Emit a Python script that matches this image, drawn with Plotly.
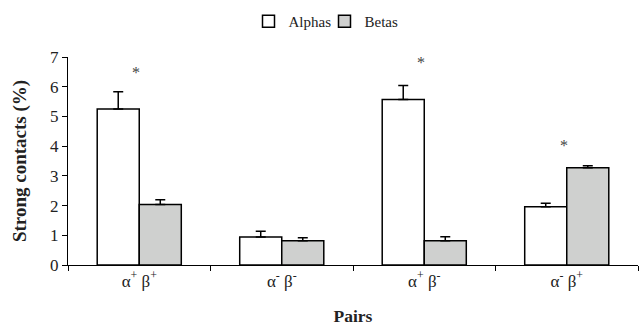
import plotly.graph_objects as go

categories = ["α<sup>+</sup> β<sup>+</sup>", "α<sup>-</sup> β<sup>-</sup>",
              "α<sup>+</sup> β<sup>-</sup>", "α<sup>-</sup> β<sup>+</sup>"]
alphas = [5.25, 0.94, 5.57, 1.96]
alphas_err = [0.58, 0.20, 0.47, 0.12]
betas = [2.04, 0.82, 0.82, 3.27]
betas_err = [0.16, 0.10, 0.13, 0.07]
star_cats = [categories[0], categories[2], categories[3]]
star_y = [6.47, 6.8, 4.02]

FONT = "Liberation Serif"
TXT = "#222222"

fig = go.Figure()
fig.add_trace(go.Bar(
    name="Alphas", x=categories, y=alphas,
    marker=dict(color="white", line=dict(color="black", width=1.5)),
    error_y=dict(type="data", symmetric=False, array=alphas_err,
                 arrayminus=[0] * len(alphas), color="black", thickness=1.5, width=5),
))
fig.add_trace(go.Bar(
    name="Betas", x=categories, y=betas,
    marker=dict(color="#cfd0cf", line=dict(color="black", width=1.5)),
    error_y=dict(type="data", symmetric=False, array=betas_err,
                 arrayminus=[0] * len(betas), color="black", thickness=1.5, width=5),
))
for c, yv in zip(star_cats, star_y):
    fig.add_annotation(x=c, y=yv, text="*", showarrow=False, xshift=-3,
                       font=dict(family=FONT, size=16, color="#444444"))

fig.update_layout(
    width=641, height=326, autosize=False,
    margin=dict(l=68, r=3, t=57, b=61, autoexpand=False),
    paper_bgcolor="white", plot_bgcolor="white",
    barmode="group", bargap=0.41, bargroupgap=0,
    font=dict(family=FONT, color=TXT),
    showlegend=True,
    legend=dict(orientation="h", x=0.45, xanchor="center",
                y=1.25, yanchor="top",
                font=dict(family=FONT, size=15, color=TXT),
                itemwidth=30, tracegroupgap=0, entrywidth=31),
    xaxis=dict(
        type="category", showline=True, linecolor="black", linewidth=1.2,
        ticks="outside", tickson="boundaries", ticklen=5, tickcolor="black",
        tickfont=dict(family=FONT, size=17, color=TXT),
        title=dict(text="<b>Pairs</b>", font=dict(family=FONT, size=17.5, color=TXT), standoff=21),
        showgrid=False, zeroline=False, automargin=False,
    ),
    yaxis=dict(
        range=[0, 7], dtick=1, showline=True, linecolor="black", linewidth=1.2,
        ticks="outside", ticklen=5, tickcolor="black",
        tickfont=dict(family=FONT, size=17, color=TXT),
        title=dict(text="<b>Strong contacts (%)</b>", font=dict(family=FONT, size=19, color=TXT), standoff=18),
        showgrid=False, zeroline=False, automargin=False,
    ),
)

fig.write_html("out.html", config={"displayModeBar": False},
               post_script="document.body.style.margin='0px';")
